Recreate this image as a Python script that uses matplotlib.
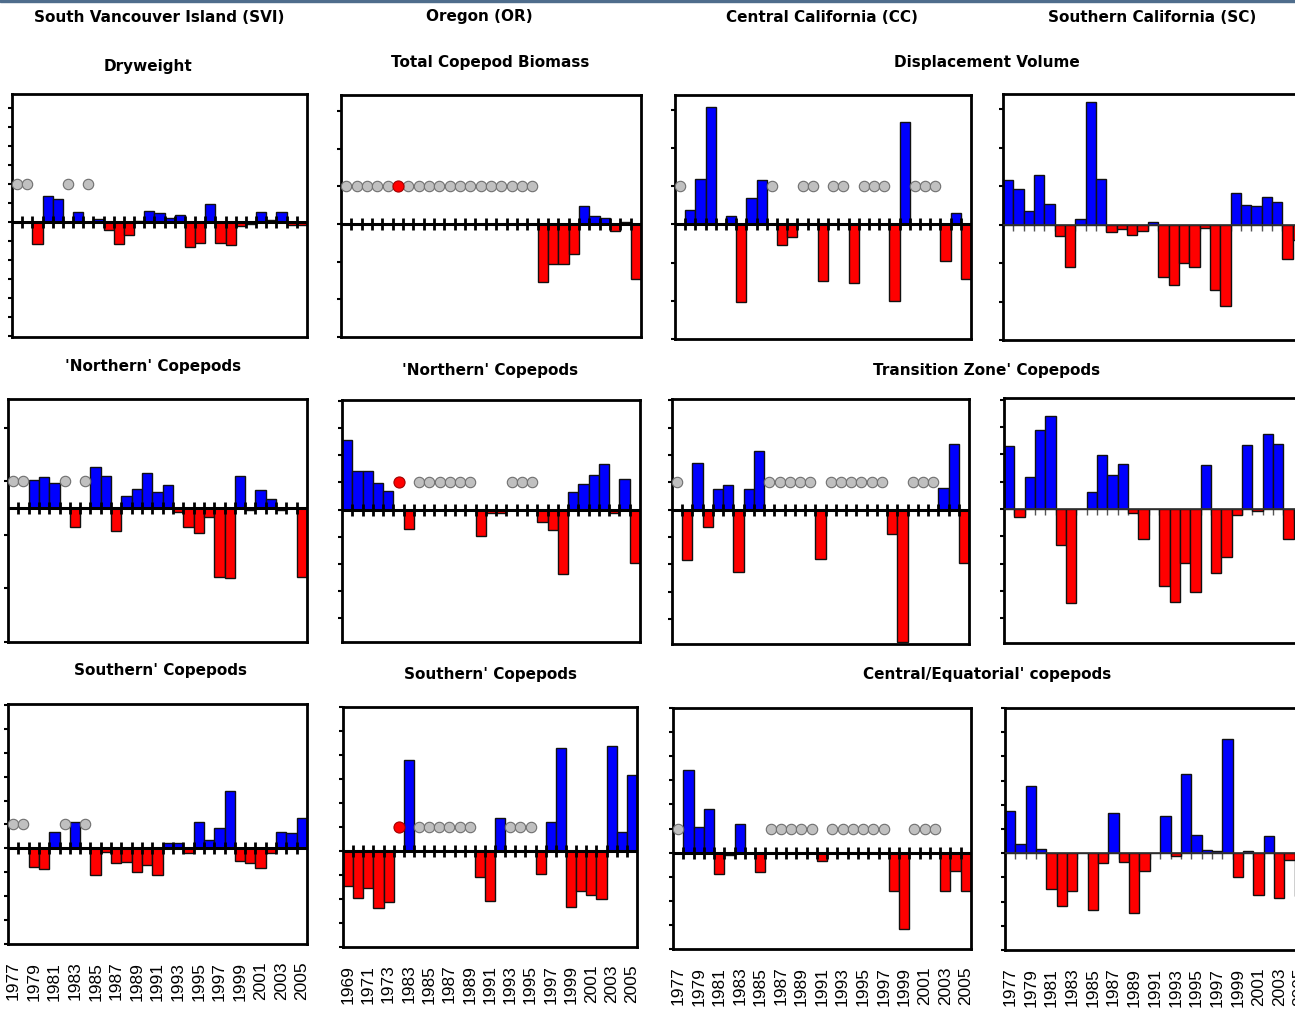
import matplotlib
matplotlib.use("Agg")
import matplotlib.pyplot as plt
import numpy as np
from matplotlib.patches import Rectangle

nan = np.nan

# categories
YEARS = [str(y) for y in range(1977, 2006)]
OR_YEARS = ["1969", "1970", "1971", "1972", "1973", ""] + [str(y) for y in range(1983, 2006)]

REGIONS = ["South Vancouver Island (SVI)", "Oregon (OR)",
           "Central California (CC)", "Southern California (SC)"]

# anomalies, nan = no sample that year (grey dot); "" in OR_YEARS = red dot
svi_dryweight = [nan, nan, -0.57, 0.68, 0.62, nan, 0.27, nan, 0.09, -0.22, -0.58, -0.34, 0.03,
                 0.29, 0.24, 0.12, 0.18, -0.66, -0.55, 0.47, -0.55, -0.60, -0.09, -0.06, 0.27,
                 0.06, 0.27, -0.07, -0.07]
or_biomass = [nan] * 19 + [-1.54, -1.06, -1.06, -0.81, 0.48, 0.22, 0.17, -0.19, 0.06, -1.45]
cc_displacement = [nan, 0.39, 1.19, 3.08, 0, 0.22, -2.03, 0.70, 1.17, nan, -0.55, -0.34, nan,
                   nan, -1.48, nan, nan, -1.53, nan, nan, nan, -2.00, 2.67, nan, nan, nan,
                   -0.96, 0.30, -1.42]
sc_displacement = [1.16, 0.92, 0.36, 1.29, 0.54, -0.30, -1.09, 0.16, 3.18, 1.20, -0.19, -0.12,
                   -0.28, -0.16, 0.07, -1.35, -1.58, -0.99, -1.09, -0.09, -1.69, -2.12, 0.83,
                   0.50, 0.48, 0.71, 0.59, -0.90, -0.41]

svi_northern = [nan, nan, 1.06, 1.16, 0.94, nan, -0.70, nan, 1.52, 1.20, -0.84, 0.44, 0.70,
                1.32, 0.60, 0.86, -0.16, -0.70, -0.94, -0.34, -2.58, -2.60, 1.20, -0.08, 0.66,
                0.34, -0.08, 0, -2.58]
or_northern = [2.58, 1.44, 1.44, 0.98, 0.70, nan, -0.71] + [nan] * 6 + [-0.96, -0.12, -0.12] \
    + [nan] * 3 + [-0.47, -0.75, -2.37, 0.64, 0.94, 1.28, 1.68, -0.12, 1.13, -1.98]
cc_transition = [nan, -1.84, 1.70, -0.63, 0.76, 0.91, -2.28, 0.76, 2.15] + [nan] * 5 + [-1.80] \
    + [nan] * 6 + [-0.87, -4.85] + [nan] * 3 + [0.80, 2.39, -1.94]
sc_transition = [2.32, -0.28, 1.16, 2.90, 3.39, -1.34, -3.44, 0, 0.61, 1.98, 1.24, 1.65, -0.16,
                 -1.12, 0, -2.84, -3.41, -1.99, -3.05, 1.61, -2.35, -1.77, -0.24, 2.33, -0.09,
                 2.74, 2.38, -1.12, -0.37]

svi_southern = [nan, nan, -0.79, -0.88, 0.69, nan, 1.11, nan, -1.11, -0.14, -0.60, -0.56, -0.97,
                -0.69, -1.11, 0.21, 0.21, -0.18, 1.11, 0.35, 0.86, 2.39, -0.51, -0.60, -0.83,
                -0.21, 0.69, 0.63, 1.29]
or_southern = [-1.46, -1.97, -1.56, -2.39, -2.11, nan, 3.79] + [nan] * 6 + [-1.10, -2.07, 1.38] \
    + [nan] * 3 + [-0.97, 1.20, 4.28, -2.34, -1.66, -1.83, -2.01, 4.37, 0.79, 3.16]
cc_central = [nan, 3.41, 1.06, 1.82, -0.90, -0.11, 1.20, 0, -0.80] + [nan] * 5 + [-0.34] \
    + [nan] * 6 + [-1.59, -3.17] + [nan] * 3 + [-1.59, -0.76, -1.59]
sc_central = [1.74, 0.36, 2.76, 0.18, -1.48, -2.19, -1.57, 0, -2.34, -0.40, 1.66, -0.37, -2.47,
              -0.74, 0, 1.52, -0.10, 3.26, 0.77, 0.14, 0.08, 4.73, -0.97, 0.08, -1.71, 0.73,
              -1.85, -0.28, -1.75]

MISSING_LEVEL = 1.0
W, H = 1295, 1020
BLUE, RED = "#0000ff", "#ff0000"

fig = plt.figure(figsize=(W / 100, H / 100), dpi=100)
fig.patches.append(Rectangle((0, 1 - 3 / H), 1, 3 / H, transform=fig.transFigure,
                             color="#4f6d8c", zorder=10))


def draw_panel(rect, values, labels, ylim, yticks, dots=True, light=False, show_years=False):
    l, t, r, b = rect
    ax = fig.add_axes([l / W, 1 - b / H, (r - l) / W, (b - t) / H])
    vals = np.array(values, dtype=float)
    x = np.arange(len(vals))
    ok = ~np.isnan(vals)
    colors = [BLUE if v >= 0 else RED for v in vals[ok]]
    ax.bar(x[ok], vals[ok], width=1.0, color=colors, edgecolor="#111111", linewidth=1.0, zorder=2)
    if dots:
        gap = np.array([lab == "" for lab in labels])
        grey = np.isnan(vals) & ~gap
        ax.plot(x[grey], np.full(grey.sum(), MISSING_LEVEL), "o", ms=7.5, mfc="#c0c0c0",
                mec="#6f6f6f", mew=0.8, zorder=3, clip_on=False)
        ax.plot(x[gap], np.full(gap.sum(), MISSING_LEVEL), "o", ms=8, mfc="#ff0000",
                mec="#a00000", mew=0.8, zorder=3)
    bounds = x[:-1] + 0.5
    if light:
        ax.axhline(0, color="#333333", lw=1.2, zorder=4)
        ax.plot(bounds, np.zeros_like(bounds), ls="none", marker=3, ms=4, mew=1,
                color="#555555", zorder=1)
    else:
        ax.axhline(0, color="black", lw=2.2, zorder=4)
        ax.plot(bounds, np.zeros_like(bounds), ls="none", marker="|", ms=8, mew=2,
                color="black", zorder=5)
    ax.set_xlim(-0.5, len(vals) - 0.5)
    ax.set_ylim(*ylim)
    ax.set_yticks(yticks)
    ax.tick_params(axis="y", direction="out", length=3, width=1.5, labelleft=False)
    if show_years:
        ax.set_xticks(x[::2])
        ax.set_xticklabels(labels[::2], rotation=90, fontsize=12.5, family="Liberation Sans")
        ax.tick_params(axis="x", length=0, pad=12)
    else:
        ax.set_xticks([])
    for s in ax.spines.values():
        s.set_linewidth(2)
        s.set_color("black")
    return ax


t1 = np.arange(-3, 3.01, 0.5)
t3 = np.arange(-3, 4)
t5 = [-5, -3, -1, 1, 3]
t6 = np.arange(-4, 5)
t9 = np.arange(-4, 7)

draw_panel((12, 95, 307, 338), svi_dryweight, YEARS, (-3.03, 3.38), t1)
draw_panel((341, 96, 641, 338), or_biomass, OR_YEARS, (-3.0, 3.42), t3)
draw_panel((675, 96, 971, 340), cc_displacement, YEARS, (-2.98, 3.39), t3)
draw_panel((1003, 95, 1303, 341), sc_displacement, YEARS, (-2.99, 3.4), t3, dots=False, light=True)

draw_panel((8, 400, 307, 643), svi_northern, YEARS, (-5.0, 4.07), t5)
draw_panel((342, 401, 640, 643), or_northern, OR_YEARS, (-4.88, 4.04), t6)
draw_panel((672, 400, 969, 645), cc_transition, YEARS, (-4.91, 4.05), t6)
draw_panel((1004, 399, 1304, 644), sc_transition, YEARS, (-4.91, 4.06), t6, dots=False, light=True)

draw_panel((8, 705, 307, 945), svi_southern, YEARS, (-3.96, 6.04), t9, show_years=True)
draw_panel((343, 708, 637, 948), or_southern, OR_YEARS, (-3.97, 5.96), t9, show_years=True)
draw_panel((673, 709, 971, 950), cc_central, YEARS, (-3.97, 5.99), t9, show_years=True)
draw_panel((1005, 709, 1305, 951), sc_central, YEARS, (-3.99, 6.0), t9, dots=False, light=True,
           show_years=True)


def label(x, y, s):
    fig.text(x / W, 1 - y / H, s, ha="center", va="center", fontsize=11, fontweight="bold",
             family="DejaVu Sans", color="black")


for xc, name in zip([159, 479, 822, 1152], REGIONS):
    label(xc, 17, name)

label(148, 66, "Dryweight")
label(490, 63, "Total Copepod Biomass")
label(987, 63, "Displacement Volume")
label(153, 367, "'Northern' Copepods")
label(490, 370, "'Northern' Copepods")
label(987, 370, "Transition Zone' Copepods")
label(161, 670, "Southern' Copepods")
label(490, 675, "Southern' Copepods")
label(987, 675, "Central/Equatorial' copepods")

fig.savefig("out.png", dpi=100)
